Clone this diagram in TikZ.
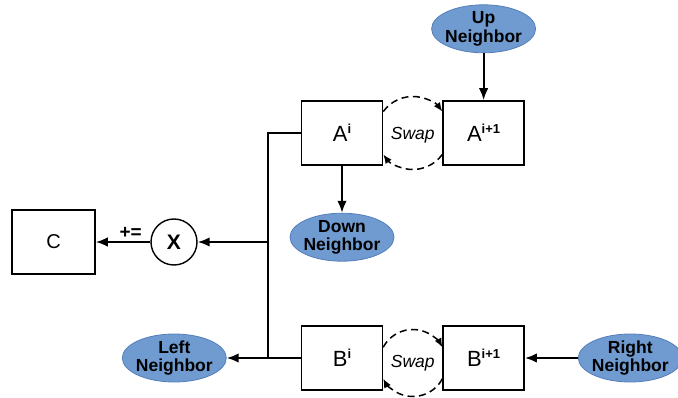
\documentclass[tikz,border=0pt]{standalone}
\usepackage{fontspec}
\setmainfont{Liberation Sans}
\usetikzlibrary{arrows.meta,positioning,shapes.geometric,calc}
\definecolor{nbfill}{RGB}{111,155,209}
\definecolor{nbdraw}{RGB}{84,126,186}
\newcommand{\supr}[1]{\raisebox{8.5pt}{\fontsize{13}{13}\selectfont\bfseries #1}}
\begin{document}
\begin{tikzpicture}[x=1pt, y=-1pt, >={Latex[length=12pt,width=9.5pt]},
  blk/.style={draw, line width=1.6pt, minimum width=81pt, minimum height=64pt, inner sep=0pt, font=\fontsize{22}{22}\selectfont},
  nbr/.style={ellipse, draw=nbdraw, fill=nbfill, line width=0.8pt, minimum width=104pt, minimum height=48pt, inner xsep=-3pt, inner ysep=-1.5pt, align=center, font=\fontsize{17.5}{18.5}\selectfont\bfseries},
  conn/.style={line width=2pt},
  swp/.style={dash pattern=on 7pt off 4.5pt, line width=1.5pt, ->, >={Latex[length=9pt,width=7.5pt]}},
  swtxt/.style={font=\fontsize{17.5}{17.5}\selectfont\itshape}]
\useasboundingbox (0,0) rectangle (678,398);
\node[blk] (ai) at (342,133) {A\supr{i}};
\node[blk, right=59pt of ai] (aii) {A\supr{i+1}};
\node[blk] (bi) at (342,358) {B\supr{i}};
\node[blk, right=59pt of bi] (bii) {B\supr{i+1}};
\node[nbr, above=47pt of aii] (up) {Up\\Neighbor};
\node[nbr, below=47pt of ai] (down) {Down\\Neighbor};
\node[nbr, left=74pt of bi] (left) {Left\\Neighbor};
\node[nbr, right=53pt of bii] (right) {Right\\Neighbor};
\node[draw, circle, line width=1.4pt, minimum size=46pt, inner sep=0pt, font=\fontsize{21}{21}\selectfont\bfseries] (mul) at (174,242) {X};
\node[blk, minimum width=83pt, font=\fontsize{20}{20}\selectfont] (cc) at (53.5,242) {C};
% swap between the A blocks
\node[swtxt] (swa) at ([yshift=-2pt]$(ai)!0.5!(aii)$) {Swap};
\coordinate (ca) at ($(ai)!0.5!(aii)$);
\draw[swp] (ca) ++(-144:36.5) arc[start angle=-144, end angle=-36, radius=36.5];
\draw[swp] (ca) ++(36:36.5) arc[start angle=36, end angle=144, radius=36.5];
% swap between the B blocks
\coordinate (cb) at ([yshift=-5pt]$(bi)!0.5!(bii)$);
\node[swtxt] (swb) at (cb) {Swap};
\draw[swp] (cb) ++(-152:33.5) arc[start angle=-152, end angle=-28, radius=33.5];
\draw[swp] (cb) ++(28:33.5) arc[start angle=28, end angle=152, radius=33.5];
% bus
\coordinate (jt) at ([xshift=-33pt]ai.west);
\coordinate (jb) at ([xshift=-33pt]bi.west);
\coordinate (jm) at (jt |- mul);
\draw[conn] (ai.west) -- (jt) -- (jb);
\draw[conn,->] (bi.west) -- (left);
\draw[conn,->] (jm) -- (mul);
\draw[conn,->] (mul) -- node[pos=0.36, above, inner sep=2pt, font=\fontsize{19}{19}\selectfont\bfseries] {+=} (cc);
\draw[conn,->] (up) -- (aii);
\draw[conn,->] (ai) -- (down);
\draw[conn,->] (right) -- (bii);
\end{tikzpicture}
\end{document}
